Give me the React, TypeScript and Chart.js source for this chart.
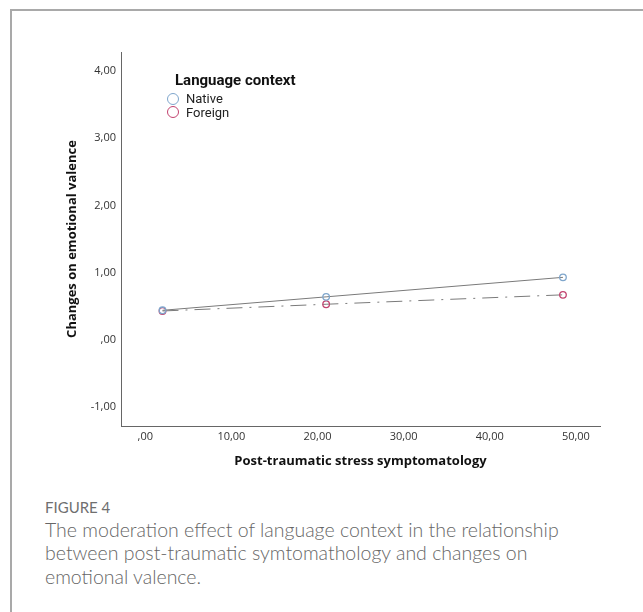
import React, { useEffect, useRef } from "react";
import { Chart, registerables } from "chart.js";

Chart.register(...registerables);

const seriesNames = ["Native", "Foreign"];
const symptomLevels = [2.0, 21.0, 48.5];
const nativeValues = [0.44, 0.64, 0.93];
const foreignValues = [0.43, 0.53, 0.67];
const xTicks = [0, 10, 20, 30, 40, 50];
const xTickLabels = [",00", "10,00", "20,00", "30,00", "40,00", "50,00"];
const yTicks = [-1, 0, 1, 2, 3, 4];
const yTickLabels = ["-1,00", ",00", "1,00", "2,00", "3,00", "4,00"];
const xTitle = "Post-traumatic stress symptomatology";
const yTitle = "Changes on emotional valence";
const legendTitle = "Language context";
const figureLabel = "FIGURE 4";
const captionLines = [
  "The moderation effect of language context in the relationship",
  "between post-traumatic symtomathology and changes on",
  "emotional valence.",
];

const pointColors = ["#7fa6cc", "#c2436f"];

export default function App() {
  const canvasRef = useRef<HTMLCanvasElement | null>(null);

  useEffect(() => {
    if (!canvasRef.current) return;
    const chart = new Chart(canvasRef.current, {
      type: "scatter",
      data: {
        datasets: [
          {
            label: seriesNames[0],
            data: symptomLevels.map((x, i) => ({ x, y: nativeValues[i] })),
            showLine: true,
            borderColor: "#7a7a7a",
            borderWidth: 1,
            pointBorderColor: pointColors[0],
            pointBackgroundColor: "rgba(255,255,255,0)",
            pointBorderWidth: 1.3,
            pointRadius: 3.3,
          },
          {
            label: seriesNames[1],
            data: symptomLevels.map((x, i) => ({ x, y: foreignValues[i] })),
            showLine: true,
            borderColor: "#7a7a7a",
            borderWidth: 1,
            borderDash: [16, 7, 2, 7],
            pointBorderColor: pointColors[1],
            pointBackgroundColor: "rgba(255,255,255,0)",
            pointBorderWidth: 1.3,
            pointRadius: 3.3,
          },
        ],
      },
      options: {
        animation: false,
        responsive: false,
        maintainAspectRatio: false,
        layout: { padding: { left: 0, top: 52, right: 43, bottom: 0 } },
        plugins: { legend: { display: false }, tooltip: { enabled: false } },
        scales: {
          x: {
            type: "linear",
            min: -2.82,
            max: 52.8,
            grid: { display: false, drawTicks: false },
            border: { display: true, color: "#666", width: 1 },
            afterBuildTicks: (scale: any) => {
              scale.ticks = xTicks.map((v) => ({ value: v }));
            },
            afterFit: (scale: any) => {
              scale.height = 54;
            },
            ticks: {
              padding: 4,
              color: "#333",
              font: { family: "'Open Sans', sans-serif", size: 11 },
              callback: (v: any) => {
                const i = xTicks.indexOf(Number(v));
                return i >= 0 ? xTickLabels[i] : "";
              },
              maxRotation: 0,
            },
            title: {
              display: true,
              text: xTitle,
              color: "#111",
              font: { family: "'Open Sans', sans-serif", size: 13, weight: "bold" },
              padding: { top: 0, bottom: 11 },
            },
          },
          y: {
            type: "linear",
            min: -1.28,
            max: 4.28,
            grid: { display: false, drawTicks: false },
            border: { display: true, color: "#666", width: 1 },
            afterBuildTicks: (scale: any) => {
              scale.ticks = yTicks.map((v) => ({ value: v }));
            },
            afterFit: (scale: any) => {
              scale.width = 121;
            },
            ticks: {
              padding: 5,
              color: "#333",
              font: { family: "'Open Sans', sans-serif", size: 11 },
              callback: (v: any) => {
                const i = yTicks.indexOf(Number(v));
                return i >= 0 ? yTickLabels[i] : "";
              },
            },
            title: {
              display: true,
              text: yTitle,
              color: "#111",
              font: { family: "'Open Sans', sans-serif", size: 13, weight: "bold" },
              padding: { top: 64, bottom: 0 },
            },
          },
        },
      },
    });
    return () => chart.destroy();
  }, []);

  return (
    <div style={{ position: "fixed", left: 0, top: 0, width: 643, height: 612, background: "#fff", overflow: "hidden" }}>
      <div
        style={{
          position: "absolute",
          left: 10,
          top: 9,
          width: 800,
          height: 800,
          borderTop: "2px solid #a9a9a9",
          borderLeft: "2px solid #a9a9a9",
        }}
      />
      <canvas ref={canvasRef} width={643} height={480} style={{ position: "absolute", left: 0, top: 0, width: 643, height: 480 }} />
      <div style={{ position: "absolute", left: 175, top: 70, fontFamily: "'Liberation Sans Narrow', Roboto, sans-serif", fontWeight: "bold", fontSize: 15, color: "#111", lineHeight: "20px", whiteSpace: "nowrap" }}>
        {legendTitle}
      </div>
      {seriesNames.map((name, i) => (
        <div key={name} style={{ position: "absolute", left: 167, top: 91 + i * 13.6, height: 15, display: "flex", alignItems: "center", whiteSpace: "nowrap" }}>
          <span style={{ display: "inline-block", width: 10, height: 10, borderRadius: "50%", border: `1.3px solid ${pointColors[i]}`, marginRight: 7 }} />
          <span style={{ fontFamily: "'Liberation Sans Narrow', Roboto, sans-serif", fontSize: 13, color: "#222" }}>{name}</span>
        </div>
      ))}
      <div style={{ position: "absolute", left: 45, top: 497, fontFamily: "Lato, sans-serif", fontSize: 15, color: "#6f6f6f", lineHeight: "20px", whiteSpace: "nowrap" }}>
        {figureLabel}
      </div>
      <div style={{ position: "absolute", left: 45, top: 518, fontFamily: "Lato, sans-serif", fontWeight: 300, fontSize: 19.5, color: "#666", lineHeight: "23.3px", whiteSpace: "nowrap" }}>
        {captionLines.map((l) => (
          <div key={l}>{l}</div>
        ))}
      </div>
    </div>
  );
}
